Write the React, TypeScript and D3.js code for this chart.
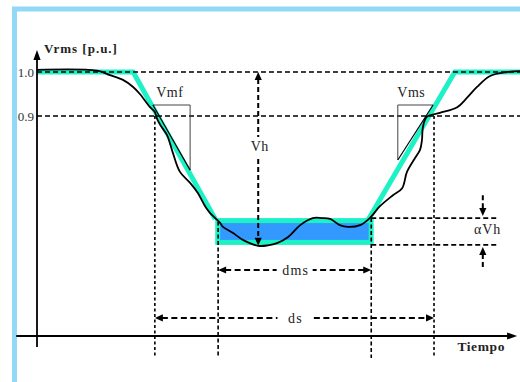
import React from "react";
import * as d3 from "d3";

const W = 520;
const H = 382;

// Measured RMS voltage during the sag (time in arbitrary units, voltage in p.u.)
const curveT = [0, 12.4, 15.1, 17.8, 19.9, 21.3, 23.4, 24.4, 24.8, 25.5, 26.9, 27.5, 28.2, 29.6, 31.7, 33.3, 34.8, 35.8, 36.9, 37.9, 38.5, 40.6, 42.7, 45.8, 47.8, 49.7, 52.0, 54.5, 57.1, 59.0, 60.7, 62.7, 64.4, 66.9, 68.9, 71.0, 73.7, 75.6, 76.6, 78.3, 79.3, 79.7, 79.9, 80.7, 83.4, 87.0, 89.0, 91.1, 93.8, 97.3, 100];
const curveV = [1.005, 1.003, 0.993, 0.982, 0.966, 0.95, 0.92, 0.909, 0.895, 0.88, 0.857, 0.839, 0.814, 0.773, 0.748, 0.725, 0.695, 0.68, 0.668, 0.657, 0.648, 0.634, 0.618, 0.605, 0.606, 0.611, 0.625, 0.652, 0.668, 0.668, 0.666, 0.652, 0.648, 0.652, 0.668, 0.695, 0.72, 0.736, 0.773, 0.805, 0.823, 0.845, 0.875, 0.898, 0.907, 0.92, 0.941, 0.966, 0.991, 1.0, 1.002];

// Idealised trapezoidal envelope
const fallT = [0, 19.9, 36.9];
const fallV = [1.0, 1.0, 0.666];
const riseT = [68.3, 86.5, 100];
const riseV = [0.659, 1.0, 1.0];

// Tolerance band (alpha * Vh)
const bandT = [36.9, 69.7];
const bandV = [0.607, 0.668];

// Reference levels
const levelV = [1.0, 0.9];
const levelLabels = ["1.0", "0.9"];

// Durations
const dsT = [24.4, 82.2];
const dmsT = [37.5, 69.2];
const dsV = 0.441;
const dmsV = 0.55;
const vLow = 0.35;

// Depth Vh
const vhT = 45.8;
const vhV = [1.0, 0.605];
const vhLabelV = 0.8205;

// alpha Vh marker
const alphaT = 92.3;
const alphaEndT = 95.3;
const alphaArrowV = [0.72, 0.673, 0.557, 0.602];
const alphaLabel = { t: 93.3, v: 0.632 };

// Slope triangles
const vmfT = [24.0, 31.7];
const vmfV = [0.925, 0.777];
const vmsT = [74.7, 82.0];
const vmsV = [0.925, 0.8];
const slopeLabelV = 0.943;
const vmfLabelT = 27.5;
const vmsLabelT = 77.5;

const CYAN = "#1cf2c6";
const BLUE = "#3399ff";
const FRAME = "#91d9f6";
const TXT = "#222";
const SERIF = "'Liberation Serif', 'Times New Roman', serif";

function arrowHead(tx: number, ty: number, dx: number, dy: number, L = 8, w = 3.6) {
  const nx = -dy, ny = dx;
  const bx = tx - dx * L, by = ty - dy * L;
  return `M${tx},${ty}L${bx + nx * w},${by + ny * w}L${bx - nx * w},${by - ny * w}Z`;
}

export default function App() {
  const x = d3.scaleLinear().domain([0, 100]).range([37, 520]);
  const y = d3.scaleLinear().domain([0.4, 1.05]).range([336, 50]);

  const lineTV = (ts: number[], vs: number[]) =>
    d3.line<number>().x((_, i) => x(ts[i])).y((_, i) => y(vs[i]))(ts) || "";

  const curvePath =
    d3
      .line<number>()
      .x((_, i) => x(curveT[i]))
      .y((_, i) => y(curveV[i]))
      .curve(d3.curveCatmullRom.alpha(0.5))(curveT) || "";

  const sw = 5;
  const bx0 = x(bandT[0]) + sw / 2;
  const bx1 = x(bandT[1]) - sw / 2;
  const by0 = y(bandV[1]) + sw / 2;
  const by1 = y(bandV[0]) - sw / 2;

  const axisY = y(0.4);
  const axisX = x(0);
  const xAxisStart = x(-4.3);
  const xAxisEnd = x(99.4);
  const yAxisTop = y(1.05);
  const yAxisBottom = y(0.375);

  const vhX = x(vhT);
  const vhTop = y(vhV[0]);
  const vhBot = y(vhV[1]);
  const vhLabelY = y(vhLabelV);

  const dmsY = y(dmsV);
  const dsY = y(dsV);
  const dmsMid = (x(dmsT[0]) + x(dmsT[1])) / 2;
  const dsMid = (x(dsT[0]) + x(dsT[1])) / 2;

  const aX = x(alphaT);

  return (
    <svg width={W} height={H} style={{ display: "block", position: "absolute", left: 0, top: 0 }}>
      <rect x={0} y={0} width={W} height={H} fill="#fff" />
      {/* frame */}
      <rect x={14.5} y={9} width={W + 20} height={H + 20} fill="none" stroke={FRAME} strokeWidth={5} />

      {/* envelope */}
      <path d={lineTV(fallT, fallV)} fill="none" stroke={CYAN} strokeWidth={5} strokeLinejoin="miter" />
      <path d={lineTV(riseT, riseV)} fill="none" stroke={CYAN} strokeWidth={5} strokeLinejoin="miter" />
      <rect x={bx0} y={by0} width={bx1 - bx0} height={by1 - by0} fill={BLUE} stroke={CYAN} strokeWidth={sw} />

      {/* reference levels */}
      {levelV.map((v, i) => (
        <g key={i}>
          <line x1={axisX} x2={x(100)} y1={y(v)} y2={y(v)} stroke="#000" strokeWidth={1.6} strokeDasharray="5,3" />
          <text x={34} y={y(v) + 4.5} textAnchor="end" fontFamily={SERIF} fontSize={13} fill="#333">
            {levelLabels[i]}
          </text>
        </g>
      ))}

      {/* alpha Vh lines */}
      {bandV.map((v, i) => (
        <line key={i} x1={x(dmsT[1])} x2={x(alphaEndT)} y1={y(v)} y2={y(v)} stroke="#000" strokeWidth={1.6} strokeDasharray="5,3" />
      ))}

      {/* vertical markers */}
      {dsT.map((t, i) => (
        <line key={"ds" + i} x1={x(t)} x2={x(t)} y1={y(0.9)} y2={y(vLow)} stroke="#000" strokeWidth={1.6} strokeDasharray="3,2.5" />
      ))}
      <line x1={x(dmsT[0])} x2={x(dmsT[0])} y1={y(0.66)} y2={y(vLow)} stroke="#000" strokeWidth={1.6} strokeDasharray="4,2.5" />
      <line x1={x(dmsT[1])} x2={x(dmsT[1])} y1={y(bandV[1])} y2={y(vLow)} stroke="#000" strokeWidth={1.6} strokeDasharray="4,2.5" />

      {/* axes */}
      <line x1={xAxisStart} x2={xAxisEnd - 6} y1={axisY} y2={axisY} stroke="#000" strokeWidth={1.8} />
      <path d={arrowHead(xAxisEnd, axisY, 1, 0, 10, 3.6)} fill="#000" />
      <line x1={axisX} x2={axisX} y1={yAxisBottom} y2={yAxisTop + 6} stroke="#000" strokeWidth={1.8} />
      <path d={arrowHead(axisX, yAxisTop, 0, -1, 10, 3.6)} fill="#000" />

      {/* measured curve */}
      <path d={curvePath} fill="none" stroke="#000" strokeWidth={1.8} strokeLinejoin="round" />

      {/* slope triangles */}
      <path
        d={`M${x(vmfT[0])},${y(vmfV[0])}L${x(vmfT[1])},${y(vmfV[0])}L${x(vmfT[1])},${y(vmfV[1])}`}
        fill="none"
        stroke="#444"
        strokeWidth={1}
      />
      <line x1={x(vmfT[0])} y1={y(vmfV[0])} x2={x(vmfT[1])} y2={y(vmfV[1])} stroke="#000" strokeWidth={1.2} />
      <path
        d={`M${x(vmsT[1])},${y(vmsV[0])}L${x(vmsT[0])},${y(vmsV[0])}L${x(vmsT[0])},${y(vmsV[1])}`}
        fill="none"
        stroke="#444"
        strokeWidth={1}
      />
      <line x1={x(vmsT[0])} y1={y(vmsV[1])} x2={x(vmsT[1])} y2={y(vmsV[0])} stroke="#000" strokeWidth={1.2} />

      {/* Vh arrow */}
      <line x1={vhX} x2={vhX} y1={vhTop + 7} y2={vhBot - 7} stroke="#000" strokeWidth={2} strokeDasharray="5,3" />
      <path d={arrowHead(vhX, vhTop, 0, -1)} fill="#000" />
      <path d={arrowHead(vhX, vhBot, 0, 1)} fill="#000" />
      <rect x={vhX - 11} y={vhLabelY - 14} width={24} height={22} fill="#fff" />
      <text x={vhX + 1.5} y={vhLabelY} textAnchor="middle" fontFamily={SERIF} fontSize={14} fill={TXT} style={{ letterSpacing: "0.5px" }}>
        Vh
      </text>

      {/* alpha Vh arrows */}
      <line x1={aX} x2={aX} y1={y(alphaArrowV[0])} y2={y(alphaArrowV[1]) - 6} stroke="#000" strokeWidth={2} strokeDasharray="5,3" />
      <path d={arrowHead(aX, y(alphaArrowV[1]), 0, 1)} fill="#000" />
      <line x1={aX} x2={aX} y1={y(alphaArrowV[2])} y2={y(alphaArrowV[3]) + 6} stroke="#000" strokeWidth={2} strokeDasharray="5,3" />
      <path d={arrowHead(aX, y(alphaArrowV[3]), 0, -1)} fill="#000" />
      <text x={x(alphaLabel.t)} y={y(alphaLabel.v)} textAnchor="middle" fontFamily={SERIF} fontSize={14} fill={TXT} style={{ letterSpacing: "1px" }}>
        αVh
      </text>

      {/* dms arrow */}
      <line x1={x(dmsT[0]) + 7} x2={x(dmsT[1]) - 7} y1={dmsY} y2={dmsY} stroke="#000" strokeWidth={2} strokeDasharray="6,3.5" />
      <path d={arrowHead(x(dmsT[0]), dmsY, -1, 0)} fill="#000" />
      <path d={arrowHead(x(dmsT[1]), dmsY, 1, 0)} fill="#000" />
      <rect x={dmsMid - 18} y={dmsY - 8} width={36} height={16} fill="#fff" />
      <text x={dmsMid + 1} y={dmsY + 5} textAnchor="middle" fontFamily={SERIF} fontSize={14} fill={TXT} style={{ letterSpacing: "1.2px" }}>
        dms
      </text>

      {/* ds arrow */}
      <line x1={x(dsT[0]) + 7} x2={x(dsT[1]) - 7} y1={dsY} y2={dsY} stroke="#000" strokeWidth={2} strokeDasharray="6,3.5" />
      <path d={arrowHead(x(dsT[0]), dsY, -1, 0)} fill="#000" />
      <path d={arrowHead(x(dsT[1]), dsY, 1, 0)} fill="#000" />
      <rect x={dsMid - 17} y={dsY - 8} width={34} height={16} fill="#fff" />
      <text x={dsMid + 1} y={dsY + 5} textAnchor="middle" fontFamily={SERIF} fontSize={14} fill={TXT} style={{ letterSpacing: "1.2px" }}>
        ds
      </text>

      {/* slope labels */}
      <text x={x(vmfLabelT)} y={y(slopeLabelV)} textAnchor="middle" fontFamily={SERIF} fontSize={14} fill={TXT} style={{ letterSpacing: "0.5px" }}>
        Vmf
      </text>
      <text x={x(vmsLabelT)} y={y(slopeLabelV)} textAnchor="middle" fontFamily={SERIF} fontSize={14} fill={TXT} style={{ letterSpacing: "0.5px" }}>
        Vms
      </text>

      {/* axis titles */}
      <text x={44} y={53} fontFamily={SERIF} fontSize={13} fontWeight="bold" fill={TXT} style={{ letterSpacing: "1px" }}>
        Vrms [p.u.]
      </text>
      <text x={505} y={351} textAnchor="end" fontFamily={SERIF} fontSize={13.5} fontWeight="bold" fill={TXT} style={{ letterSpacing: "0.6px" }}>
        Tiempo
      </text>
    </svg>
  );
}
